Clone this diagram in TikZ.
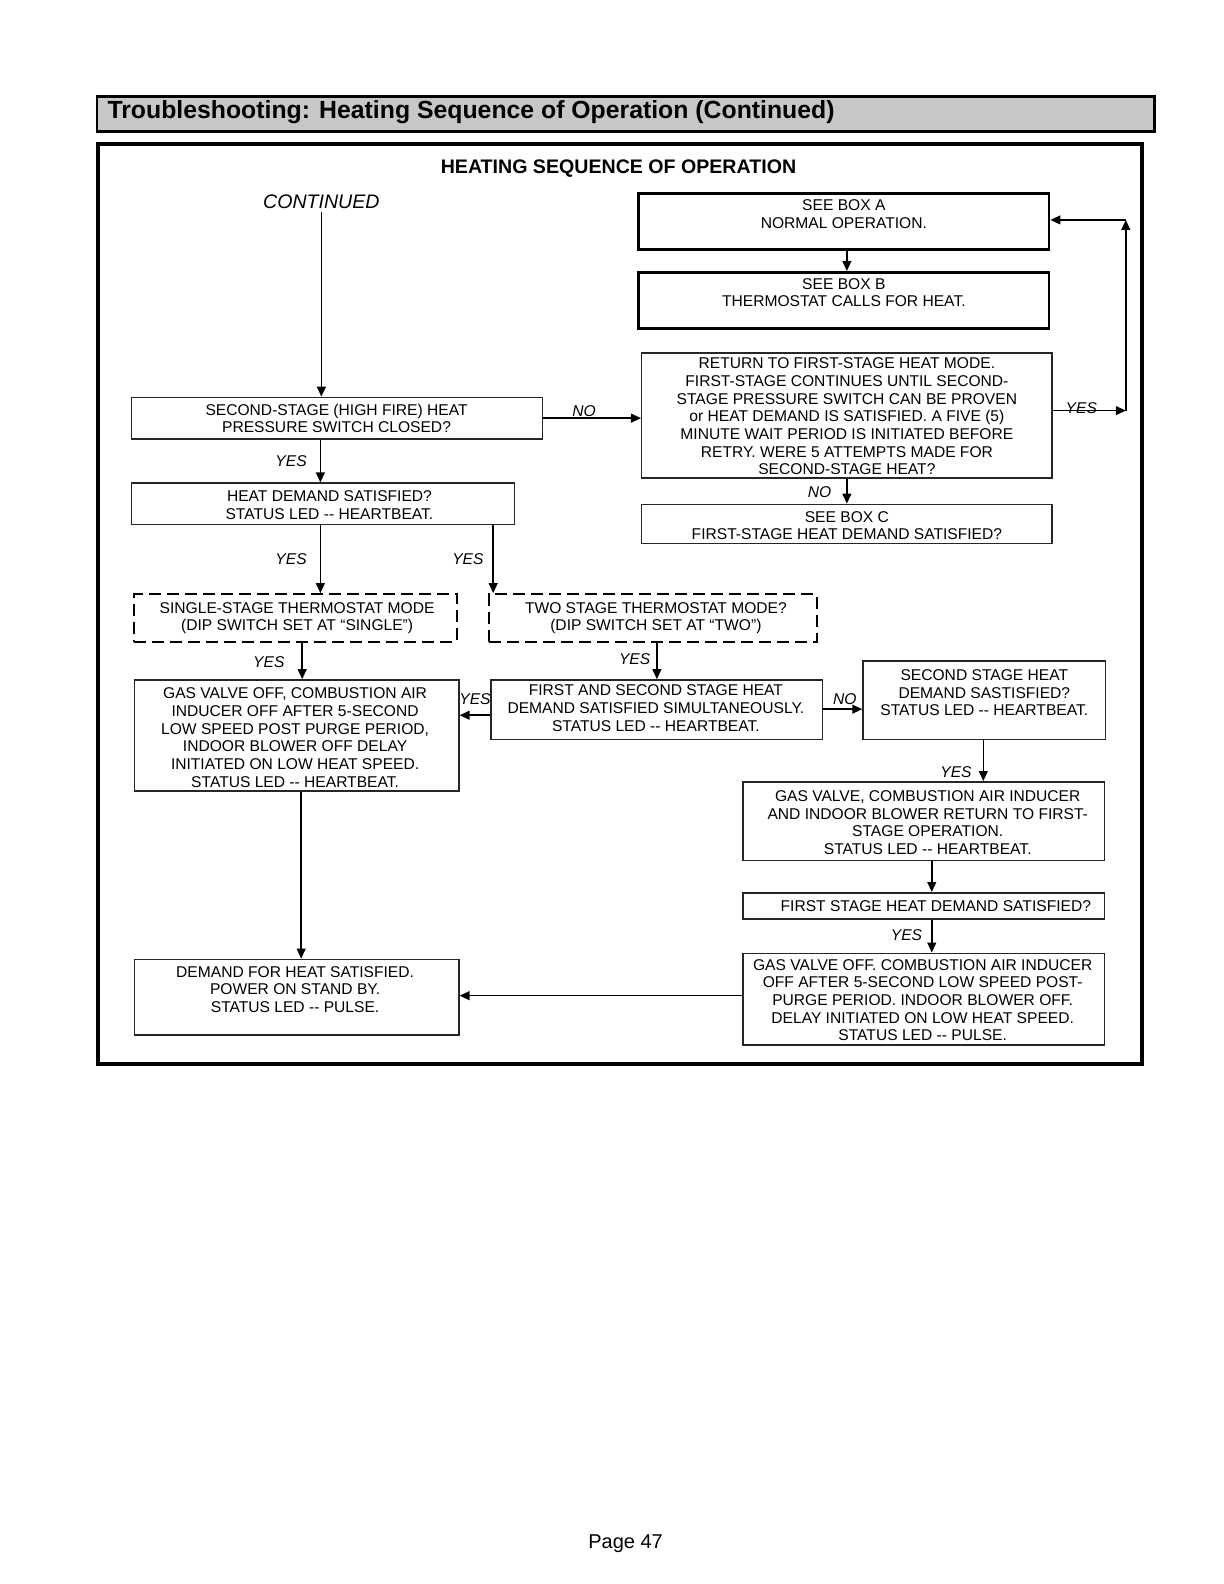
\documentclass[tikz,border=0pt]{standalone}
\usepackage{fontspec}
\setmainfont{Liberation Sans}
\usetikzlibrary{fit,arrows.meta}
\newcommand\bfnt{\fontsize{7.8}{8.85}\selectfont}
\newcommand\fs{\rule{0pt}{7pt}}
\newcommand\dd{-\kern0pt-}
\begin{document}
\begin{tikzpicture}[x=0.5053pt,y=-0.5044pt,
  box/.style={draw=black!85, line width=0.75pt, inner sep=0pt, rectangle},
  heavybox/.style={box, draw=black, line width=1.4pt},
  dashbox/.style={box, draw=black, line width=1pt, dash pattern=on 6pt off 3pt},
  txt/.style={anchor=north, inner sep=0pt, align=center, font=\bfnt},
  lab/.style={inner sep=0pt, font=\bfnt\itshape},
  arr/.style={draw=black, line width=0.8pt, -{Triangle[length=5pt,width=4.4pt]}},
]
\fill[white] (0pt,0pt) rectangle (612pt,-792pt);
\useasboundingbox (0pt,0pt) rectangle (612pt,-792pt);

% banner
\node[draw=black, line width=1.4pt, fill=black!22, inner sep=0pt, fit={(96,95.5)(1142,130)}] (banner) {};
\node[anchor=west, inner sep=0pt, font=\fontsize{12.4}{14}\selectfont\bfseries] (bannerT) at (106,111.5) {Troubleshooting: Heating Sequence of Operation (Continued)};

% frame
\node[draw=black, line width=2pt, inner sep=0pt, fit={(97,143)(1130,1055)}] (frame) {};
\node[inner sep=0pt, font=\fontsize{9.8}{11}\selectfont\bfseries] (title) at (612,167) {HEATING SEQUENCE OF OPERATION};
\node[inner sep=0pt, font=\fontsize{9.8}{11}\selectfont\itshape] (cont) at (318,200) {CONTINUED};

% boxes
\node[heavybox, fit={(632,192)(1038,247)}] (A) {};
\node[txt] (At) at (835,194.3) {\fs SEE BOX A\\NORMAL OPERATION.};
\node[heavybox, fit={(632,270)(1038,326)}] (B) {};
\node[txt] (Bt) at (835,272.3) {\fs SEE BOX B\\THERMOSTAT CALLS FOR HEAT.};
\node[box, fit={(635,350)(1041,474)}] (R) {};
\node[txt] (Rt) at (838,351.3) {\fs RETURN TO FIRST-STAGE HEAT MODE.\\FIRST-STAGE CONTINUES UNTIL SECOND-\\STAGE PRESSURE SWITCH CAN BE PROVEN\\or HEAT DEMAND IS SATISFIED. A FIVE (5)\\MINUTE WAIT PERIOD IS INITIATED BEFORE\\RETRY. WERE 5 ATTEMPTS MADE FOR\\SECOND-STAGE HEAT?};
\node[box, fit={(635,500)(1041,539)}] (C) {};
\node[txt] (Ct) at (838,503.3) {\fs SEE BOX C\\FIRST-STAGE HEAT DEMAND SATISFIED?};
\node[box, fit={(130,394)(537,435)}] (S2) {};
\node[txt] (S2t) at (333,397.3) {\fs SECOND-STAGE (HIGH FIRE) HEAT\\PRESSURE SWITCH CLOSED?};
\node[box, fit={(130,479)(509,520)}] (HD) {};
\node[txt] (HDt) at (326,483.3) {\fs HEAT DEMAND SATISFIED?\\STATUS LED \dd{} HEARTBEAT.};
\node[dashbox, fit={(133,589)(452,636)}] (SS) {};
\node[txt] (SSt) at (294,593.5) {\fs SINGLE-STAGE THERMOSTAT MODE\\(DIP SWITCH SET AT “SINGLE”)};
\node[dashbox, fit={(484,589)(808,636)}] (TS) {};
\node[txt] (TSt) at (649,593.5) {\fs TWO STAGE THERMOSTAT MODE?\\(DIP SWITCH SET AT “TWO”)};
\node[box, fit={(133,674)(454,784)}] (GV) {};
\node[txt] (GVt) at (292,678.3) {\fs GAS VALVE OFF, COMBUSTION AIR\\INDUCER OFF AFTER 5-SECOND\\LOW SPEED POST PURGE PERIOD,\\INDOOR BLOWER OFF DELAY\\INITIATED ON LOW HEAT SPEED.\\STATUS LED \dd{} HEARTBEAT.};
\node[box, fit={(486,674)(814,733)}] (FS) {};
\node[txt] (FSt) at (649,675.3) {\fs FIRST AND SECOND STAGE HEAT\\DEMAND SATISFIED SIMULTANEOUSLY.\\STATUS LED \dd{} HEARTBEAT.};
\node[box, fit={(854,655)(1094,733)}] (SS2) {};
\node[txt] (SS2t) at (974,660.3) {\fs SECOND STAGE HEAT\\DEMAND SASTISFIED?\\STATUS LED \dd{} HEARTBEAT.};
\node[box, fit={(735,775)(1093,853)}] (GR) {};
\node[txt] (GRt) at (918,780.3) {\fs GAS VALVE, COMBUSTION AIR INDUCER\\AND INDOOR BLOWER RETURN TO FIRST-\\STAGE OPERATION.\\STATUS LED \dd{} HEARTBEAT.};
\node[box, fit={(735,885)(1093,911)}] (FSD) {};
\node[txt] (FSDt) at (926,889.3) {\fs FIRST STAGE HEAT DEMAND SATISFIED?};
\node[box, fit={(735,945)(1093,1036)}] (GVO) {};
\node[txt] (GVOt) at (913,947.3) {\fs GAS VALVE OFF. COMBUSTION AIR INDUCER\\OFF AFTER 5-SECOND LOW SPEED POST-\\PURGE PERIOD. INDOOR BLOWER OFF.\\DELAY INITIATED ON LOW HEAT SPEED.\\STATUS LED \dd{} PULSE.};
\node[box, fit={(133,951)(454,1026)}] (DFH) {};
\node[txt] (DFHt) at (292,954.3) {\fs DEMAND FOR HEAT SATISFIED.\\POWER ON STAND BY.\\STATUS LED \dd{} PULSE.};

% loop coordinates
\coordinate (lp1) at (1114,407);
\coordinate (lp2) at (1114,218);
\coordinate (c0) at (318,210);

% connectors
\draw[arr] (c0) -- (S2.north -| c0);
\draw[arr] (A.south -| 838,0) -- (B.north -| 838,0);
\draw[arr] (S2.east) -- (S2.east -| R.west);
\draw[arr] (R.east |- lp1) -- (lp1);
\draw[arr] (lp1) -- (lp2);
\draw[arr] (lp2) -- (lp2 -| A.east);
\draw[arr] (R.south -| 838,0) -- (C.north -| 838,0);
\draw[arr] (S2.south -| 317,0) -- (HD.north -| 317,0);
\draw[arr] (HD.south -| 317,0) -- (SS.north -| 317,0);
\draw[arr] (HD.south -| 488,0) -- (TS.north -| 488,0);
\draw[arr] (SS.south -| 299,0) -- (GV.north -| 299,0);
\draw[arr] (TS.south -| 650,0) -- (FS.north -| 650,0);
\draw[arr] (FS.west |- 0,709) -- (GV.east |- 0,709);
\draw[arr] (FS.east |- 0,703) -- (SS2.west |- 0,703);
\draw[arr] (SS2.south -| 973,0) -- (GR.north -| 973,0);
\draw[arr] (GR.south -| 922,0) -- (FSD.north -| 922,0);
\draw[arr] (FSD.south -| 922,0) -- (GVO.north -| 922,0);
\draw[arr] (GVO.west |- 0,987) -- (DFH.east |- 0,987);
\draw[arr] (GV.south -| 298,0) -- (DFH.north -| 298,0);

% labels
\node[lab] (l1) at (578,408) {NO};
\node[lab] (l2) at (1070,405) {YES};
\node[lab] (l3) at (811,488) {NO};
\node[lab] (l4) at (288,457) {YES};
\node[lab] (l5) at (288,554) {YES};
\node[lab] (l6) at (463,554) {YES};
\node[lab] (l7) at (266,656) {YES};
\node[lab] (l8) at (628,653) {YES};
\node[lab] (l9) at (470,693) {YES};
\node[lab] (l10) at (836,693) {NO};
\node[lab] (l11) at (946,765) {YES};
\node[lab] (l12) at (897,927) {YES};

\node[inner sep=0pt, font=\fontsize{10}{12}\selectfont] (page) at (619,1530) {Page 47};
\end{tikzpicture}
\end{document}
